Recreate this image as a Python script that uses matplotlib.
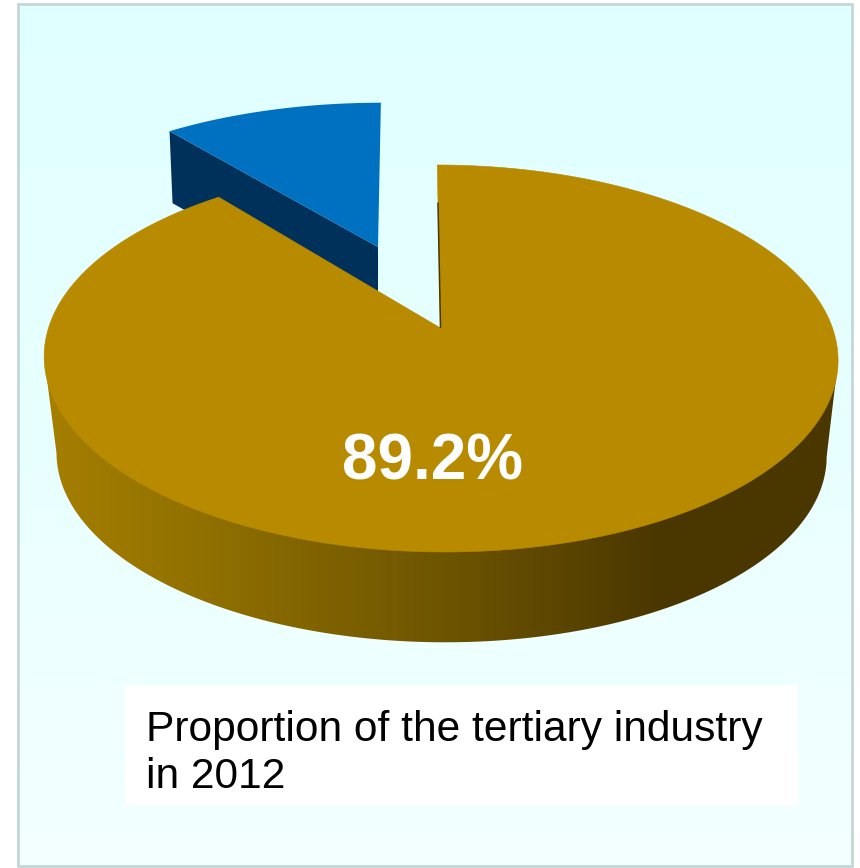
import numpy as np
import matplotlib
matplotlib.use("Agg")
import matplotlib.pyplot as plt
from matplotlib.colors import LinearSegmentedColormap
from matplotlib.patches import Polygon, Rectangle

# ---- data ----
labels = ["Tertiary industry", "Other"]
shares = [89.2, 10.8]
value_label = "89.2%"
caption = "Proportion of the tertiary industry\nin 2012"

plt.rcParams["font.family"] = ["Liberation Sans", "DejaVu Sans"]
W, H = 860, 868
fig = plt.figure(figsize=(W / 100, H / 100), dpi=100, facecolor="white")
ax = fig.add_axes([0, 0, 1, 1])
ax.set_xlim(0, W)
ax.set_ylim(H, 0)
ax.axis("off")

K = 0.1576  # perspective strength


def project(theta, x0, y0, sx=392.0, sy=188.7, lean=0.0):
    """Map clockwise-from-top pie angle to a point on the tilted disc."""
    u, v = np.sin(theta), np.cos(theta)
    px = sx * u / (1 + K * v)
    py = sy * v / (1 + K * v)
    return x0 + px + lean * py, y0 - py


def sector(a0, a1, n=240, **kw):
    t = np.linspace(a0, a1, n)
    x, y = project(t, **kw)
    return np.column_stack([x, y])


# background panel
bg = LinearSegmentedColormap.from_list("bg", ["#E0FFFF", "#E8FFFF", "#F4FFFF"])
panel = Rectangle((18, 4), 834, 862, facecolor="none", edgecolor="#C4D6D6", lw=2, zorder=3)
img = ax.imshow(np.linspace(0, 1, 256)[:, None], extent=(18, 852, 866, 4), cmap=bg,
                aspect="auto", zorder=0)
ax.add_patch(panel)
ax.set_xlim(0, W)
ax.set_ylim(H, 0)

# caption box
ax.add_patch(Rectangle((125, 685), 673, 120, facecolor="white", edgecolor="none", zorder=1))
ax.text(146, 788, caption, fontsize=30.6, color="black", ha="left", va="baseline",
        linespacing=1.24, zorder=6)

total = sum(shares)
main_end = 2 * np.pi * shares[0] / total

# exploded slice
blue = dict(x0=378, y0=247, sx=377.0, sy=167.0, lean=0.02)
rim = sector(main_end, 2 * np.pi, **blue)
left = rim[0]
depth = 72
ax.add_patch(Polygon([left, (blue["x0"], blue["y0"]), (blue["x0"], blue["y0"] + depth),
                      (left[0] + 3, left[1] + depth)], closed=True, facecolor="#00315A",
                     edgecolor="none", zorder=2))
ax.add_patch(Polygon(np.vstack([[blue["x0"], blue["y0"]], rim]), closed=True,
                     facecolor="#0070C0", edgecolor="none", zorder=3))

# main disc
top = dict(x0=440.5, y0=328, lean=-0.02)
low = dict(x0=441, y0=425, sx=392.0 * 0.97, sy=188.7 * 0.97, lean=-0.02)
full = np.linspace(0, 2 * np.pi, 720)
tx, ty = project(full, **top)
lx, ly = project(full, **low)
il, ir = np.argmin(lx), np.argmax(lx)
lower_front = np.column_stack([lx[ir:il + 1], ly[ir:il + 1]])  # right -> bottom -> left
itl, itr = np.argmin(tx), np.argmax(tx)
side_pts = np.vstack([[tx[itr], ty[itr]], lower_front, [tx[itl], ty[itl]]])
side_poly = Polygon(side_pts, closed=True, transform=ax.transData, facecolor="none", edgecolor="none")
ax.add_patch(side_poly)
side_cm = LinearSegmentedColormap.from_list(
    "side", [(0.0, "#A67F00"), (0.2, "#907000"), (0.5, "#6E5500"), (0.78, "#4A3700"), (1.0, "#4A3700")])
grad = ax.imshow(np.linspace(0, 1, 256)[None, :], extent=(45, 838, 660, 340), cmap=side_cm,
                 aspect="auto", zorder=4)
grad.set_clip_path(side_poly)
ax.set_xlim(0, W)
ax.set_ylim(H, 0)

wedge = sector(0, main_end, 720, **top)
apex = np.array([top["x0"], top["y0"]])
ax.add_patch(Polygon(np.vstack([apex, wedge]), closed=True, facecolor="#B78A00",
                     edgecolor="#B78A00", lw=0.4, zorder=5))
# dark sliver of the cut face along the start edge
edge_end = apex + 0.77 * (wedge[0] - apex)
ax.plot([apex[0], edge_end[0]], [apex[1], edge_end[1]], color="#4A3700", lw=1.1, zorder=5.5,
        solid_capstyle="butt")

ax.text(433, 480, value_label, fontsize=46, fontweight="bold", color="white",
        ha="center", va="baseline", zorder=6)

fig.savefig("out.png", dpi=100, facecolor="white")
